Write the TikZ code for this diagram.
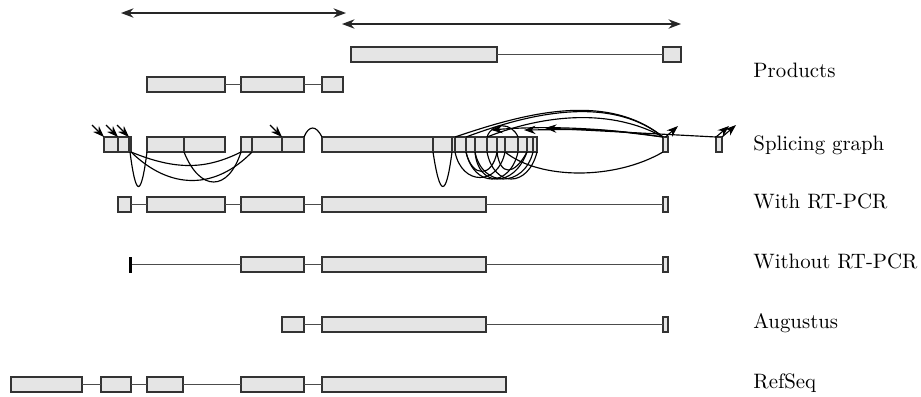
\documentclass[tikz,border=0pt]{standalone}
\usetikzlibrary{fit,arrows.meta}
\newcommand\exn[4]{\node[exon, fit={(#2,#4) (#3,#4+15)}] (#1) {};}
\begin{document}
\begin{tikzpicture}[x=0.48pt,y=-0.48pt,
  exon/.style={draw=black!80, fill=gray!20, line width=0.6pt, inner sep=0pt, outer sep=0pt},
  intron/.style={draw=black!70, line width=0.75pt},
  splarc/.style={draw=black, line width=0.55pt},
  sgtip/.style={-{Stealth[length=5.5pt,width=4pt]}},
  lbl/.style={anchor=base west, inner sep=0pt, font=\fontsize{10}{12}\selectfont},
  rangearrow/.style={draw=black!85, line width=0.7pt, {Stealth[length=6pt,width=4.5pt]}-{Stealth[length=6pt,width=4.5pt]}},
]
\useasboundingbox (0,0) rectangle (921,396);

% range arrows
\coordinate (a1l) at (121,13); \coordinate (a1r) at (346,13);
\coordinate (a2l) at (342,24); \coordinate (a2r) at (681,24);
\draw[rangearrow] (a1l) -- (a1r);
\draw[rangearrow] (a2l) -- (a2r);

% Products
\exn{p1}{351}{497}{47} \exn{p2}{663}{681}{47}
\draw[intron] (p1.east) -- (p2.west);
\exn{q1}{147}{225}{77} \exn{q2}{241}{304}{77} \exn{q3}{322}{343}{77}
\draw[intron] (q1.east) -- (q2.west);
\draw[intron] (q2.east) -- (q3.west);

% Splicing graph
\exn{s1}{104}{118}{137} \exn{s2}{118}{129}{137} \exn{s3}{129}{131}{137}
\exn{s4}{147}{184}{137} \exn{s5}{184}{225}{137}
\exn{s6}{241}{252}{137} \exn{s7}{252}{282}{137} \exn{s8}{282}{304}{137}
\exn{s9}{322}{433}{137} \exn{s10}{433}{452}{137} \exn{s11}{452}{455}{137}
\exn{s12}{455}{466}{137} \exn{s13}{466}{475}{137} \exn{s14}{475}{487}{137}
\exn{s15}{487}{497}{137} \exn{s16}{497}{505}{137} \exn{s17}{505}{518}{137}
\exn{s18}{518}{527}{137} \exn{s19}{527}{533}{137} \exn{s20}{533}{537}{137}
\exn{s21}{663}{668}{137} \exn{s22}{716}{722}{137}

% start arrows
\coordinate (k1) at (92,125); \coordinate (k2) at (106,125);
\coordinate (k3) at (117,125); \coordinate (k4) at (270,125);
\draw[splarc,sgtip] (k1) -- (s1.north west);
\draw[splarc,sgtip] (k2) -- (s2.north west);
\draw[splarc,sgtip] (k3) -- (s3.north west);
\draw[splarc,sgtip] (k4) -- (s8.north west);

% bump
\draw[splarc] (s8.north east) .. controls (309,125) and (316,125) .. (s9.north west);

% left arcs below
\draw[splarc] (s3.south) .. controls (136,198) and (141,198) .. (s4.south west);
\draw[splarc] (s3.south east) .. controls (175,170) and (205,170) .. (s6.south west);
\draw[splarc] (s3.south east) .. controls (170,190) and (215,190) .. (s7.south west);
\draw[splarc] (s5.south west) .. controls (200,192) and (228,192) .. (s6.south west);

% right arcs below
\draw[splarc] (s9.south east) .. controls (440,198) and (446,198) .. (s11.south west);
\draw[splarc] (s12.south west) .. controls (462,186) and (498,186) .. (s17.south west);
\draw[splarc] (s12.south east) .. controls (474,188) and (510,188) .. (s18.south west);
\draw[splarc] (s13.south east) .. controls (478,188) and (514,188) .. (s19.south west);
\draw[splarc] (s14.south west) .. controls (482,188) and (524,188) .. (s20.south west);
\draw[splarc] (s14.south east) .. controls (494,188) and (528,188) .. (s20.south east);
\draw[splarc] (s15.south east) .. controls (500,176) and (514,176) .. (s18.south east);
\draw[splarc] (s13.south west) .. controls (472,178) and (492,178) .. (s16.south west);
\draw[splarc] (s16.south east) .. controls (540,180) and (615,180) .. (s21.south west);

% right arcs above
\draw[splarc] (s12.north west) .. controls (520,115) and (605,90) .. (s21.north west);
\draw[splarc] (s12.north east) .. controls (525,115) and (608,93) .. (s21.north west);
\draw[splarc] (s14.north east) .. controls (535,118) and (605,105) .. (s21.north west);
\draw[splarc] (s15.north west) .. controls (492,122) and (512,122) .. (s17.north east);

% arrow lines
\coordinate (h1) at (545,128); \coordinate (h2) at (524,130); \coordinate (h3) at (491,130);
\draw[splarc,sgtip] (s22.north west) -- (h1);
\draw[splarc,sgtip] (s21.north west) .. controls (600,129) .. (h2);
\draw[splarc,sgtip] (s21.north west) .. controls (600,127) and (540,126) .. (h3);
\coordinate (u1) at (678,126); \coordinate (u2) at (729,126); \coordinate (u3) at (736,125);
\draw[splarc,sgtip] (s21.north) -- (u1);
\draw[splarc,sgtip] (s22.north west) -- (u2);
\draw[splarc,sgtip] (s22.north east) -- (u3);

% With RT-PCR
\exn{r1}{118}{131}{197} \exn{r2}{147}{225}{197} \exn{r3}{241}{304}{197}
\exn{r4}{322}{486}{197} \exn{r5}{663}{668}{197}
\draw[intron] (r1.east) -- (r2.west);
\draw[intron] (r2.east) -- (r3.west);
\draw[intron] (r3.east) -- (r4.west);
\draw[intron] (r4.east) -- (r5.west);

% Without RT-PCR
\node[draw=black, fill=black, line width=0.3pt, inner sep=0pt, fit={(129.5,257) (130.8,272)}] (b0) {};
\exn{w1}{241}{304}{257} \exn{w2}{322}{486}{257} \exn{w3}{663}{668}{257}
\draw[intron] (b0.east) -- (w1.west);
\draw[intron] (w1.east) -- (w2.west);
\draw[intron] (w2.east) -- (w3.west);

% Augustus
\exn{g1}{282}{304}{317} \exn{g2}{322}{486}{317} \exn{g3}{663}{668}{317}
\draw[intron] (g1.east) -- (g2.west);
\draw[intron] (g2.east) -- (g3.west);

% RefSeq
\exn{f1}{11}{82}{377} \exn{f2}{101}{131}{377} \exn{f3}{147}{183}{377}
\exn{f4}{241}{304}{377} \exn{f5}{322}{506}{377}
\draw[intron] (f1.east) -- (f2.west);
\draw[intron] (f2.east) -- (f3.west);
\draw[intron] (f3.east) -- (f4.west);
\draw[intron] (f4.east) -- (f5.west);

% labels
\node[lbl] (l1) at (753,77) {Products};
\node[lbl] (l2) at (753,150) {Splicing graph};
\node[lbl] (l3) at (753,208) {With RT-PCR};
\node[lbl] (l4) at (753,268) {Without RT-PCR};
\node[lbl] (l5) at (753,328) {Augustus};
\node[lbl] (l6) at (753,388) {RefSeq};
\end{tikzpicture}
\end{document}
